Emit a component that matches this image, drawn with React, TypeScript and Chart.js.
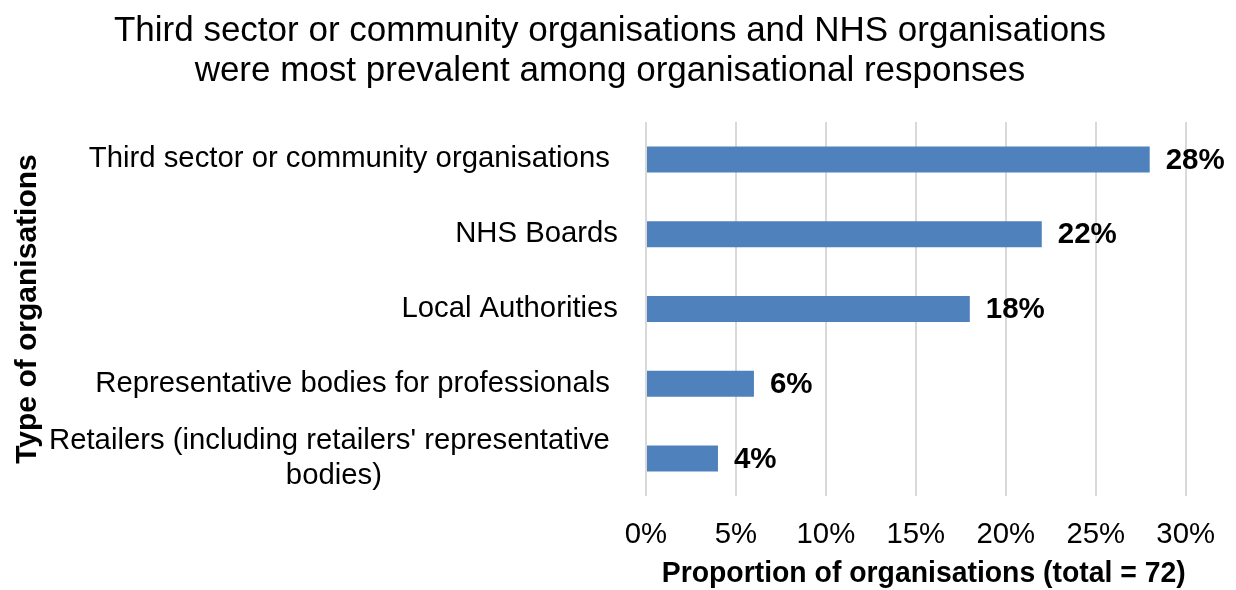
import React, { useEffect, useRef } from "react";
import { Chart, registerables } from "chart.js";

Chart.register(...registerables);

const FONT = '"Liberation Sans", Arial, Helvetica, sans-serif';

const titleLines = [
  "Third sector or community organisations and NHS organisations",
  "were most prevalent among organisational responses",
];

const categories: (string | string[])[] = [
  "Third sector or community organisations ",
  "NHS Boards",
  "Local Authorities",
  "Representative bodies for professionals ",
  [
    "Retailers (including retailers' representative ",
    "bodies)                             ",
  ],
];

const values = [28, 22, 18, 6, 4];

const xAxisTitle = "  Proportion of organisations (total = 72)";
const yAxisTitle = "Type of organisations";

const valueLabels = {
  id: "valueLabels",
  afterDatasetsDraw(chart: any) {
    const ctx = chart.ctx;
    const meta = chart.getDatasetMeta(0);
    ctx.save();
    ctx.font = `bold 29.5px ${FONT}`;
    ctx.fillStyle = "#000";
    ctx.textAlign = "left";
    ctx.textBaseline = "middle";
    meta.data.forEach((bar: any, i: number) => {
      ctx.fillText(values[i] + "%", bar.x + 16, bar.y + 1);
    });
    ctx.restore();
  },
};

export default function App() {
  const ref = useRef<HTMLCanvasElement>(null);

  useEffect(() => {
    if (!ref.current) return;
    const chart = new Chart(ref.current, {
      type: "bar",
      data: {
        labels: categories,
        datasets: [
          {
            data: values,
            backgroundColor: "#4f81bd",
            barPercentage: 0.348,
            categoryPercentage: 1,
          },
        ],
      },
      options: {
        indexAxis: "y",
        responsive: false,
        animation: false,
        devicePixelRatio: 1,
        layout: { padding: 0 },
        plugins: {
          legend: { display: false },
          tooltip: { enabled: false },
          title: {
            display: true,
            text: titleLines,
            color: "#000",
            font: { family: FONT, size: 35, weight: "normal", lineHeight: 40 / 35 },
            padding: { top: 11, bottom: 31 },
          },
        },
        scales: {
          x: {
            min: 0,
            max: 30,
            ticks: {
              stepSize: 5,
              callback: (v: any) => v + "%",
              color: "#000",
              font: { family: FONT, size: 29.3 },
              padding: 21,
            },
            grid: { color: "#d9d9d9", lineWidth: 2, drawTicks: false },
            border: { display: false },
            title: {
              display: true,
              text: xAxisTitle,
              color: "#000",
              font: { family: FONT, size: 29.3, weight: "bold", lineHeight: 1.0 },
              padding: { top: 0, bottom: 1 },
            },
            afterFit: (scale: any) => {
              scale.height = 94;
            },
          },
          y: {
            ticks: {
              color: "#000",
              font: { family: FONT, size: 29.3, lineHeight: 1.2 },
              padding: 28,
              autoSkip: false,
            },
            grid: { display: false, drawTicks: false },
            border: { display: false },
            title: {
              display: true,
              text: yAxisTitle,
              color: "#000",
              font: { family: FONT, size: 30, weight: "bold", lineHeight: 1.2 },
              padding: { top: 26, bottom: 0 },
            },
            afterFit: (scale: any) => {
              scale.width = 662;
            },
          },
          yRightSpace: {
            type: "linear",
            position: "right",
            display: true,
            grid: { display: false, drawTicks: false },
            border: { display: false },
            ticks: { display: false },
            afterFit: (scale: any) => {
              scale.width = 50;
            },
          },
        },
      } as any,
      plugins: [valueLabels],
    });
    return () => chart.destroy();
  }, []);

  return (
    <div style={{ position: "absolute", left: -16, top: 0, width: 1252, height: 590, background: "#fff" }}>
      <canvas ref={ref} width={1252} height={590} style={{ display: "block" }} />
    </div>
  );
}
